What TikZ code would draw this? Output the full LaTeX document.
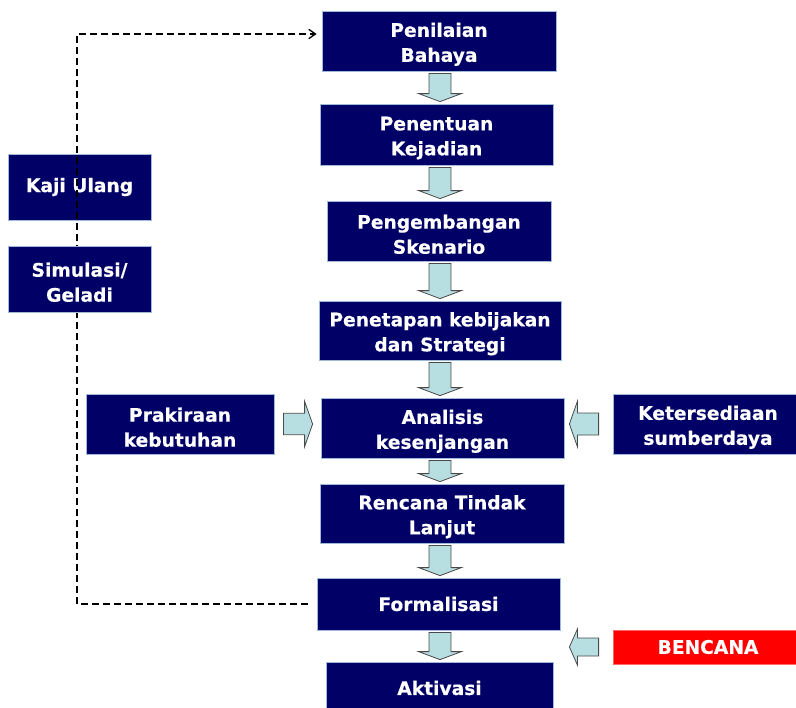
\documentclass[tikz,border=0pt]{standalone}
\usepackage{fontspec}
\setmainfont{DejaVu Sans}[BoldFeatures={FakeBold=0.4}]
\usetikzlibrary{calc,arrows.meta}

% Block arrow: start, tip, shaft half width, head half width, head length
\newcommand{\blockarrow}[5]{%
    \coordinate (baS) at #1;
    \coordinate (baT) at #2;
    \coordinate (baH) at ($(baT)!#5!(baS)$);
    \draw[blockArrow] ($(baS)!#3!90:(baT)$) -- ($(baH)!#3!90:(baT)$) -- ($(baH)!#4!90:(baT)$) -- (baT)
        -- ($(baH)!#4!-90:(baT)$) -- ($(baH)!#3!-90:(baT)$) -- ($(baS)!#3!-90:(baT)$) -- cycle;}
% Extra room above the first of two lines
\newcommand{\padtop}{\rule{0pt}{15.5pt}}

\begin{document}
\begin{tikzpicture}[x=0.75pt, y=-0.75pt,
    stepbox/.style={fill=boxBlue, draw=boxEdge, line width=0.6pt, text=white, align=center,
        inner sep=0pt, font=\fontsize{14}{18.75}\selectfont\bfseries},
    boxSize/.style 2 args={minimum width=#1*0.75pt, minimum height=#2*0.75pt},
    blockArrow/.style={fill=arrowFill, draw=arrowEdge, line width=0.6pt},
    loopLine/.style={line width=1pt, dash pattern=on 5.25pt off 3pt, -{Straight Barb[length=5pt,width=7pt]}}]

    % Define colours
    \definecolor{boxBlue}{HTML}{000066}
    \definecolor{boxEdge}{HTML}{9DBBD8}
    \definecolor{arrowFill}{HTML}{B7DEE0}
    \definecolor{arrowEdge}{HTML}{4A4A4A}
    \definecolor{alarmRed}{HTML}{FF0000}

    % Page size
    \useasboundingbox (0,0) rectangle (796,707);

    % Main steps
    \node[stepbox, boxSize={234}{60}] (bahaya) at (439,41) {\padtop Penilaian\\Bahaya};
    \node[stepbox, boxSize={233}{61}] (kejadian) at (436.5,134.5) {\padtop Penentuan\\Kejadian};
    \node[stepbox, boxSize={224}{60}] (skenario) at (439,231) {\padtop Pengembangan\\Skenario};
    \node[stepbox, boxSize={242}{59}] (strategi) at (440,330.5) {\padtop Penetapan kebijakan\\dan Strategi};
    \node[stepbox, boxSize={243}{60}] (analisis) at (442.5,428) {\padtop Analisis\\kesenjangan};
    \node[stepbox, boxSize={244}{59}] (rencana) at (442,513.5) {\padtop Rencana Tindak\\Lanjut};
    \node[stepbox, boxSize={243}{52}] (formal) at (438.5,604) {Formalisasi};
    \node[stepbox, boxSize={227}{52}] (aktivasi) at (439.5,688) {Aktivasi};

    % Review loop
    \node[stepbox, boxSize={143}{66}] (kaji) at (79.5,187) {Kaji Ulang};
    \coordinate (loopTop) at (77,34);
    \draw[loopLine] ($(formal.west)+(-6.75pt,0pt)$) -| (loopTop) -- ($(loopTop -| bahaya.west)+(-3.75pt,0pt)$);
    \node[stepbox, boxSize={143}{66}] (geladi) at (79.5,279) {\padtop Simulasi/\\Geladi};

    % Side inputs
    \node[stepbox, boxSize={188}{60}] (prakiraan) at (180,424) {\padtop Prakiraan\\kebutuhan};
    \node[stepbox, boxSize={190}{60}] (sumber) at (708,424) {\padtop Ketersediaan\\sumberdaya};
    \node[stepbox, boxSize={190}{34}, fill=alarmRed, draw=alarmRed!60!white] (bencana) at (708,647) {BENCANA};

    % Flow arrows
    \coordinate (col) at (440,0);
    \foreach \a/\b in {bahaya/kejadian, kejadian/skenario, skenario/strategi, strategi/analisis,
        analisis/rencana, rencana/formal, formal/aktivasi}
        \blockarrow{($(\a.south -| col)+(0pt,-1.5pt)$)}{($(\b.north -| col)+(0pt,1.5pt)$)}{8.25pt}{16pt}{6pt};

    \blockarrow{($(prakiraan.east)+(6.75pt,0pt)$)}{($(analisis.west |- prakiraan.east)+(-6pt,0pt)$)}{8pt}{17pt}{6pt}
    \blockarrow{($(sumber.west)+(-10.5pt,0pt)$)}{($(analisis.east |- sumber.west)+(3.75pt,0pt)$)}{8.25pt}{17pt}{6pt}
    \blockarrow{($(bencana.west)+(-10.5pt,0pt)$)}{($(analisis.east |- bencana.west)+(3.75pt,0pt)$)}{6.75pt}{13.5pt}{6pt}

\end{tikzpicture}
\end{document}
